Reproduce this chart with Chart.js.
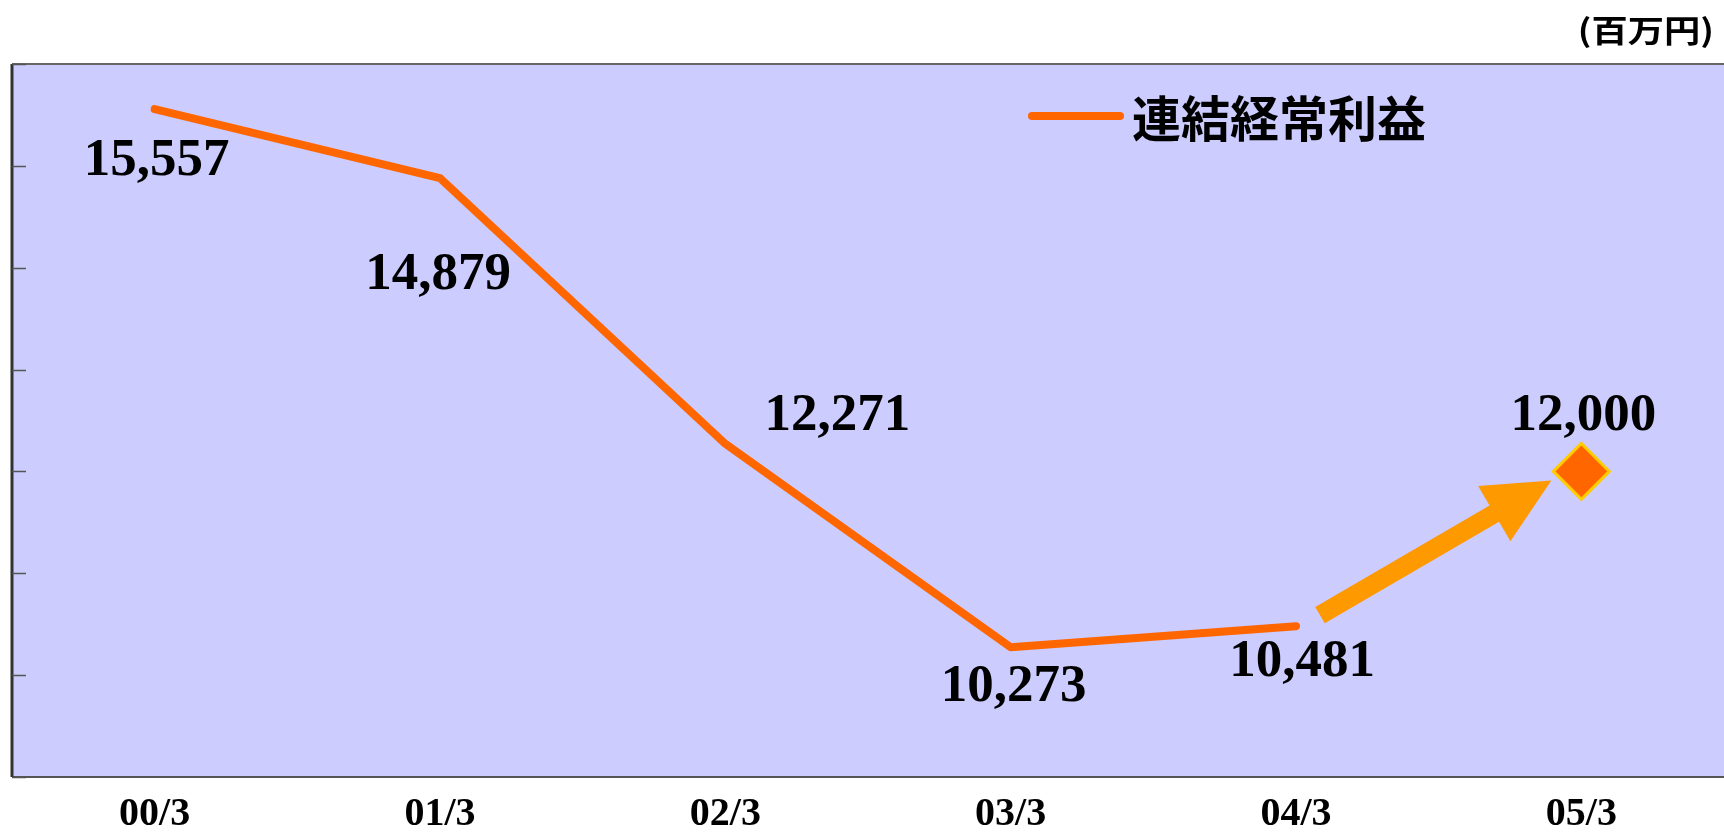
<!DOCTYPE html>
<html>
<head>
<meta charset="utf-8">
<script src="https://cdn.jsdelivr.net/npm/chart.js@4.4.1/dist/chart.umd.min.js"></script>
<style>
  html, body { margin: 0; padding: 0; background: #fff; }
  #wrap { width: 1724px; height: 833px; }
</style>
</head>
<body>
<div id="wrap"><canvas id="chart"></canvas></div>
<script>
const categories = ["00/3", "01/3", "02/3", "03/3", "04/3", "05/3"]
const profitValues = [15557, 14879, 12271, 10273, 10481, null]
const forecastValues = [null, null, null, null, null, 12000]
const yTicks = [9000, 10000, 11000, 12000, 13000, 14000, 15000, 16000]
const seriesLabel = "連結経常利益"
const unitLabel = "(百万円)"

// where each value label sits relative to its point (px)
const labelOffsets = [[2, 52], [-2, 97], [112, -28], [3, 40], [6, 36], [2, -55]]

const serif = "'Liberation Serif', 'Times New Roman', serif"
const gothic = "'Noto Sans CJK JP', 'Noto Sans', sans-serif"

function drawArrow(ctx, x1, y1, x2, y2, shaft, headLen, headW) {
  const ang = Math.atan2(y2 - y1, x2 - x1)
  const len = Math.hypot(x2 - x1, y2 - y1)
  ctx.save()
  ctx.translate(x1, y1)
  ctx.rotate(ang)
  ctx.beginPath()
  ctx.moveTo(0, -shaft / 2)
  ctx.lineTo(len - headLen, -shaft / 2)
  ctx.lineTo(len - headLen, -headW / 2)
  ctx.lineTo(len, 0)
  ctx.lineTo(len - headLen, headW / 2)
  ctx.lineTo(len - headLen, shaft / 2)
  ctx.lineTo(0, shaft / 2)
  ctx.closePath()
  ctx.fill()
  ctx.restore()
}

const decor = {
  id: "decor",
  beforeDraw(chart) {
    const { ctx, chartArea: a } = chart
    ctx.save()
    ctx.fillStyle = "#CCCCFF"
    ctx.fillRect(a.left, a.top, a.right - a.left, a.bottom - a.top)
    ctx.restore()
  },
  beforeDatasetsDraw(chart) {
    const { ctx, chartArea: a } = chart
    const y = chart.scales.y
    ctx.save()
    // frame: top, left, bottom
    ctx.strokeStyle = "#666"
    ctx.lineWidth = 2
    ctx.beginPath()
    ctx.moveTo(a.left, a.top)
    ctx.lineTo(a.right, a.top)
    ctx.stroke()
    ctx.strokeStyle = "#555"
    ctx.beginPath()
    ctx.moveTo(a.left, a.bottom)
    ctx.lineTo(a.right, a.bottom)
    ctx.stroke()
    ctx.strokeStyle = "#333"
    ctx.lineWidth = 3
    ctx.beginPath()
    ctx.moveTo(a.left, a.top)
    ctx.lineTo(a.left, a.bottom)
    ctx.stroke()
    // inner tick marks
    ctx.strokeStyle = "#555"
    ctx.lineWidth = 1.5
    y.ticks.forEach(t => {
      const py = Math.round(y.getPixelForValue(t.value)) + 0.5
      ctx.beginPath()
      ctx.moveTo(a.left, py)
      ctx.lineTo(a.left + 14, py)
      ctx.stroke()
    })

    // forecast arrow
    const p4 = chart.getDatasetMeta(0).data[4]
    const p5 = chart.getDatasetMeta(1).data[5]
    ctx.fillStyle = "#FF9900"
    drawArrow(ctx, p4.x + 24, p4.y - 11, p5.x - 30, p5.y + 9, 19, 66, 64)
    ctx.restore()
  },
  afterDatasetsDraw(chart) {
    const { ctx } = chart
    ctx.save()
    // value labels
    ctx.fillStyle = "#000"
    ctx.font = "bold 53px " + serif
    ctx.textAlign = "center"
    ctx.textBaseline = "middle"
    categories.forEach((c, i) => {
      const d = profitValues[i] != null ? 0 : 1
      const v = d === 0 ? profitValues[i] : forecastValues[i]
      const pt = chart.getDatasetMeta(d).data[i]
      const [dx, dy] = labelOffsets[i]
      ctx.fillText(v.toLocaleString("en-US"), pt.x + dx, pt.y + dy)
    })

    // legend
    const ds = chart.data.datasets[0]
    ctx.strokeStyle = ds.borderColor
    ctx.lineWidth = 8
    ctx.lineCap = "round"
    ctx.beginPath()
    ctx.moveTo(1032, 116)
    ctx.lineTo(1120, 116)
    ctx.stroke()
    ctx.font = "bold 49px " + gothic
    ctx.textAlign = "left"
    ctx.fillText(ds.label, 1132, 118)

    // unit
    ctx.font = "bold 31px " + gothic
    ctx.textAlign = "right"
    ctx.translate(1714, 30)
    ctx.scale(1.17, 1)
    ctx.fillText(unitLabel, 0, 0)
    ctx.restore()
  }
}

new Chart(document.getElementById("chart"), {
  type: "line",
  data: {
    labels: categories,
    datasets: [
      {
        label: seriesLabel,
        data: profitValues,
        borderColor: "#FF6600",
        borderWidth: 8,
        borderCapStyle: "round",
        borderJoinStyle: "round",
        pointRadius: 0,
        tension: 0,
        spanGaps: false
      },
      {
        label: "予想",
        data: forecastValues,
        showLine: false,
        pointStyle: "rectRot",
        pointRadius: 28,
        pointBorderWidth: 3,
        pointBackgroundColor: "#FF6600",
        pointBorderColor: "#FFCC00"
      }
    ]
  },
  options: {
    responsive: true,
    maintainAspectRatio: false,
    animation: false,
    layout: { autoPadding: false, padding: { top: 64, left: 12, right: 0, bottom: 0 } },
    plugins: {
      legend: { display: false },
      tooltip: { enabled: false }
    },
    scales: {
      x: {
        offset: true,
        grid: { display: false, drawTicks: false },
        border: { display: false },
        afterFit: s => {
          s.height = 56
          s.paddingLeft = 0
          s.paddingRight = 0
        },
        ticks: {
          padding: 14,
          color: "#000",
          font: { family: serif, size: 40, weight: "bold" }
        }
      },
      y: {
        min: yTicks[0],
        max: yTicks[yTicks.length - 1],
        grid: { display: false, drawTicks: false },
        border: { display: false },
        afterFit: s => {
          s.width = 0
          s.paddingTop = 0
          s.paddingBottom = 0
        },
        afterBuildTicks: s => { s.ticks = yTicks.map(v => ({ value: v })) },
        ticks: { display: false }
      }
    }
  },
  plugins: [decor]
})
</script>
</body>
</html>
